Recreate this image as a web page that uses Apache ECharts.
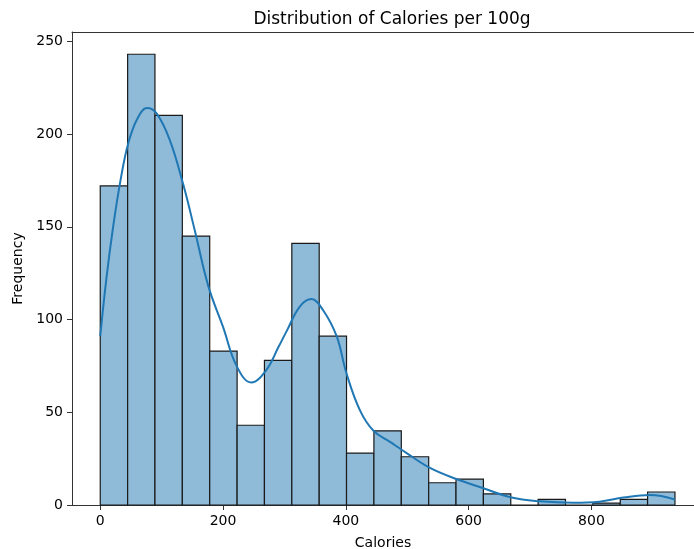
<!DOCTYPE html>
<html>
<head>
<meta charset="utf-8">
<script src="https://cdn.jsdelivr.net/npm/echarts@6/dist/echarts.min.js"></script>
<style>
  html, body { margin: 0; padding: 0; background: #fff; }
  #chart { width: 694px; height: 549px; }
</style>
</head>
<body>
<div id="chart"></div>
<script>
// histogram bin edges (Calories) and counts per bin
var binEdges = [0, 44.6, 89.1, 133.7, 178.3, 222.9, 267.4, 312.0, 356.6, 401.1, 445.7,
  490.3, 534.9, 579.4, 624.0, 668.6, 713.1, 757.7, 802.3, 846.9, 891.4, 936.0];
var counts = [172, 243, 210, 145, 83, 43, 78, 141, 91, 28, 40, 26, 12, 14, 6, 0, 3, 0, 1, 3, 7];

// kde curve, [calories, frequency]
var kdePoints = [[0, 91], [10, 122], [21, 150], [33, 175], [45.6, 195], [60, 208], [76, 214],
  [92, 211], [113, 197], [135, 173], [154, 148], [176, 118], [200, 96], [222, 75], [246, 66],
  [271, 73], [290, 85], [304, 94], [325, 107], [344, 111], [363, 105], [385, 91], [401, 71],
  [423, 51], [445, 40], [472, 34], [499, 28], [537, 20], [580, 14], [624, 9], [670, 4],
  [716, 2], [770, 1.2], [813, 1.8], [852, 4], [895, 5.4], [936, 3]];

var xTicks = [0, 200, 400, 600, 800];
var yTicks = [0, 50, 100, 150, 200, 250];

var histData = counts.map(function (c, i) {
  return [binEdges[i], binEdges[i + 1], c];
});

var chart = echarts.init(document.getElementById('chart'));
var font = 'DejaVu Sans';

chart.setOption({
  animation: false,
  title: {
    text: 'Distribution of Calories per 100g',
    left: 387,
    top: 6,
    textAlign: 'center',
    textStyle: { fontFamily: font, fontSize: 17, fontWeight: 'normal', color: '#000' }
  },
  grid: { left: 72, right: 0, top: 32, bottom: 44, containLabel: false, outerBoundsMode: 'none' },
  xAxis: [{
    type: 'value',
    min: -46,
    max: 967,
    name: 'Calories',
    nameLocation: 'middle',
    nameGap: 31,
    nameTextStyle: { fontFamily: font, fontSize: 14, color: '#000' },
    axisLine: { show: true, onZero: false, lineStyle: { color: '#333', width: 1 } },
    axisTick: { show: true, length: 5, customValues: xTicks, lineStyle: { color: '#333' } },
    axisLabel: { customValues: xTicks, margin: 9, fontFamily: font, fontSize: 14, color: '#000' },
    splitLine: { show: false }
  }, {
    type: 'value',
    position: 'top',
    min: -46,
    max: 967,
    axisLine: { show: true, onZero: false, lineStyle: { color: '#333', width: 1 } },
    axisTick: { show: false },
    axisLabel: { show: false },
    splitLine: { show: false }
  }],
  yAxis: {
    type: 'value',
    min: 0,
    max: 255,
    name: 'Frequency',
    nameLocation: 'middle',
    nameGap: 44,
    nameTextStyle: { fontFamily: font, fontSize: 14, color: '#000' },
    axisLine: { show: true, onZero: false, lineStyle: { color: '#333', width: 1 } },
    axisTick: { show: true, length: 5, customValues: yTicks, lineStyle: { color: '#333' } },
    axisLabel: { customValues: yTicks, margin: 9, fontFamily: font, fontSize: 14, color: '#000' },
    splitLine: { show: false }
  },
  series: [{
    type: 'custom',
    xAxisIndex: 0,
    data: histData,
    encode: { x: [0, 1], y: 2 },
    renderItem: function (params, api) {
      var p0 = api.coord([api.value(0), api.value(2)]);
      var p1 = api.coord([api.value(1), 0]);
      return {
        type: 'rect',
        shape: { x: p0[0], y: p0[1], width: p1[0] - p0[0], height: p1[1] - p0[1] },
        style: { fill: '#8fbbd9', stroke: '#1a1a1a', lineWidth: 1.2 }
      };
    }
  }, {
    type: 'line',
    xAxisIndex: 0,
    data: kdePoints,
    smooth: 0.4,
    showSymbol: false,
    symbol: 'none',
    lineStyle: { color: '#1f77b4', width: 2 },
    z: 5
  }]
});
</script>
</body>
</html>
